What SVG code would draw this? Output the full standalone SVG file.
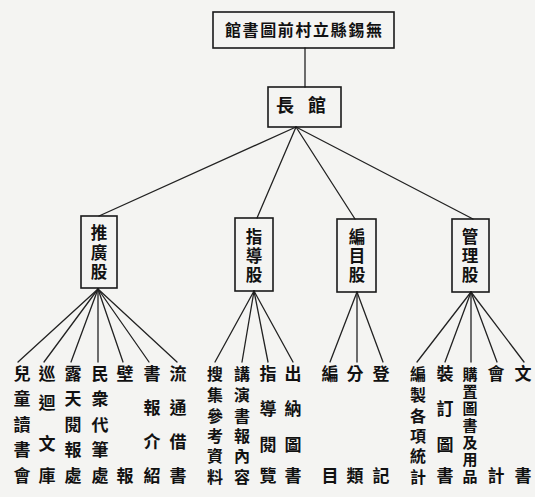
<svg xmlns="http://www.w3.org/2000/svg" width="535" height="497" viewBox="0 0 535 497">
<style>
.box{fill:none;stroke:#1a1a1a;stroke-width:1.6}
.t{font-family:"Liberation Sans","Noto Sans CJK TC","Noto Sans CJK JP",sans-serif;font-weight:700;fill:#111;text-anchor:middle;dominant-baseline:central}
.br{font-size:16.5px}
.leaf{font-size:17px}
.leaf6{font-size:16px}
.leaf7{font-size:15px}
.conn line{stroke:#222;stroke-width:1.3;stroke-linecap:round}
</style>
<rect width="535" height="497" fill="#f4f4f2"/>
<g id="connectors" class="conn">
<line x1="305" y1="48" x2="305" y2="87"/>
<line x1="296" y1="127" x2="99" y2="216"/>
<line x1="296" y1="127" x2="257" y2="218"/>
<line x1="296" y1="127" x2="355" y2="219"/>
<line x1="296" y1="127" x2="473" y2="219"/>
<line x1="98" y1="289" x2="18" y2="362"/>
<line x1="98" y1="289" x2="44" y2="362"/>
<line x1="98" y1="289" x2="71" y2="362"/>
<line x1="98" y1="289" x2="98" y2="362"/>
<line x1="98" y1="289" x2="123" y2="362"/>
<line x1="98" y1="289" x2="149" y2="362"/>
<line x1="98" y1="289" x2="177" y2="362"/>
<line x1="254" y1="291" x2="215" y2="362"/>
<line x1="254" y1="291" x2="242" y2="362"/>
<line x1="254" y1="291" x2="268" y2="362"/>
<line x1="254" y1="291" x2="293" y2="362"/>
<line x1="357" y1="292" x2="330" y2="362"/>
<line x1="357" y1="292" x2="357" y2="362"/>
<line x1="357" y1="292" x2="383" y2="362"/>
<line x1="471" y1="292" x2="417" y2="362"/>
<line x1="471" y1="292" x2="445" y2="362"/>
<line x1="471" y1="292" x2="471" y2="362"/>
<line x1="471" y1="292" x2="497" y2="362"/>
<line x1="471" y1="292" x2="524" y2="362"/>
</g>
<g id="title">
<rect class="box" x="213" y="12" width="181" height="36"/>
<text class="t" x="225" y="30" font-size="16" style="text-anchor:start" textLength="157" lengthAdjust="spacing">館書圖前村立縣錫無</text>
</g>
<g id="director">
<rect class="box" x="268" y="87" width="73" height="40"/>
<text class="t" font-size="18"><tspan x="285" y="106">長</tspan><tspan x="317" y="106">館</tspan></text>
</g>
<g id="branch-tuiguang">
<rect class="box" x="81" y="216" width="36" height="72"/>
<text class="t br"><tspan x="99" y="233">推</tspan><tspan x="99" y="253">廣</tspan><tspan x="99" y="272">股</tspan></text>
</g>
<g id="branch-zhidao">
<rect class="box" x="235" y="218" width="38" height="73"/>
<text class="t br"><tspan x="254" y="237">指</tspan><tspan x="254" y="256">導</tspan><tspan x="254" y="275">股</tspan></text>
</g>
<g id="branch-bianmu">
<rect class="box" x="337" y="219" width="39" height="73"/>
<text class="t br"><tspan x="357" y="237">編</tspan><tspan x="357" y="256">目</tspan><tspan x="357" y="275">股</tspan></text>
</g>
<g id="branch-guanli">
<rect class="box" x="452" y="219" width="37" height="73"/>
<text class="t br"><tspan x="470" y="237">管</tspan><tspan x="470" y="256">理</tspan><tspan x="470" y="275">股</tspan></text>
</g>
<g id="leaf-1"><text class="t leaf"><tspan x="22" y="374">兒</tspan><tspan x="22" y="399">童</tspan><tspan x="22" y="425">讀</tspan><tspan x="22" y="450">書</tspan><tspan x="22" y="476">會</tspan></text></g>
<g id="leaf-2"><text class="t leaf"><tspan x="47" y="374">巡</tspan><tspan x="47" y="403">迴</tspan><tspan x="47" y="444">文</tspan><tspan x="47" y="476">庫</tspan></text></g>
<g id="leaf-3"><text class="t leaf"><tspan x="73" y="374">露</tspan><tspan x="73" y="399">天</tspan><tspan x="73" y="425">閱</tspan><tspan x="73" y="450">報</tspan><tspan x="73" y="476">處</tspan></text></g>
<g id="leaf-4"><text class="t leaf"><tspan x="100" y="374">民</tspan><tspan x="100" y="399">衆</tspan><tspan x="100" y="425">代</tspan><tspan x="100" y="450">筆</tspan><tspan x="100" y="476">處</tspan></text></g>
<g id="leaf-5"><text class="t leaf"><tspan x="125" y="374">壁</tspan><tspan x="125" y="476">報</tspan></text></g>
<g id="leaf-6"><text class="t leaf"><tspan x="152" y="374">書</tspan><tspan x="152" y="408">報</tspan><tspan x="152" y="442">介</tspan><tspan x="152" y="476">紹</tspan></text></g>
<g id="leaf-7"><text class="t leaf"><tspan x="178" y="374">流</tspan><tspan x="178" y="408">通</tspan><tspan x="178" y="442">借</tspan><tspan x="178" y="476">書</tspan></text></g>
<g id="leaf-8"><text class="t leaf6"><tspan x="215" y="374">搜</tspan><tspan x="215" y="395">集</tspan><tspan x="215" y="416">參</tspan><tspan x="215" y="436">考</tspan><tspan x="215" y="456">資</tspan><tspan x="215" y="477">料</tspan></text></g>
<g id="leaf-9"><text class="t leaf6"><tspan x="242" y="374">講</tspan><tspan x="242" y="395">演</tspan><tspan x="242" y="416">書</tspan><tspan x="242" y="436">報</tspan><tspan x="242" y="456">內</tspan><tspan x="242" y="477">容</tspan></text></g>
<g id="leaf-10"><text class="t leaf"><tspan x="268" y="374">指</tspan><tspan x="268" y="409">導</tspan><tspan x="268" y="445">閱</tspan><tspan x="268" y="476">覽</tspan></text></g>
<g id="leaf-11"><text class="t leaf"><tspan x="293" y="374">出</tspan><tspan x="293" y="409">納</tspan><tspan x="293" y="445">圖</tspan><tspan x="293" y="476">書</tspan></text></g>
<g id="leaf-12"><text class="t leaf"><tspan x="330" y="374">編</tspan><tspan x="330" y="476">目</tspan></text></g>
<g id="leaf-13"><text class="t leaf"><tspan x="355" y="374">分</tspan><tspan x="355" y="476">類</tspan></text></g>
<g id="leaf-14"><text class="t leaf"><tspan x="381" y="374">登</tspan><tspan x="381" y="476">記</tspan></text></g>
<g id="leaf-15"><text class="t leaf6"><tspan x="418" y="374">編</tspan><tspan x="418" y="395">製</tspan><tspan x="418" y="416">各</tspan><tspan x="418" y="436">項</tspan><tspan x="418" y="456">統</tspan><tspan x="418" y="477">計</tspan></text></g>
<g id="leaf-16"><text class="t leaf"><tspan x="445" y="374">裝</tspan><tspan x="445" y="409">訂</tspan><tspan x="445" y="445">圖</tspan><tspan x="445" y="476">書</tspan></text></g>
<g id="leaf-17"><text class="t leaf7"><tspan x="470" y="374">購</tspan><tspan x="470" y="391">置</tspan><tspan x="470" y="408">圖</tspan><tspan x="470" y="425">書</tspan><tspan x="470" y="442">及</tspan><tspan x="470" y="459">用</tspan><tspan x="470" y="476">品</tspan></text></g>
<g id="leaf-18"><text class="t leaf"><tspan x="496" y="374">會</tspan><tspan x="496" y="476">計</tspan></text></g>
<g id="leaf-19"><text class="t leaf"><tspan x="523" y="374">文</tspan><tspan x="523" y="476">書</tspan></text></g>
</svg>
